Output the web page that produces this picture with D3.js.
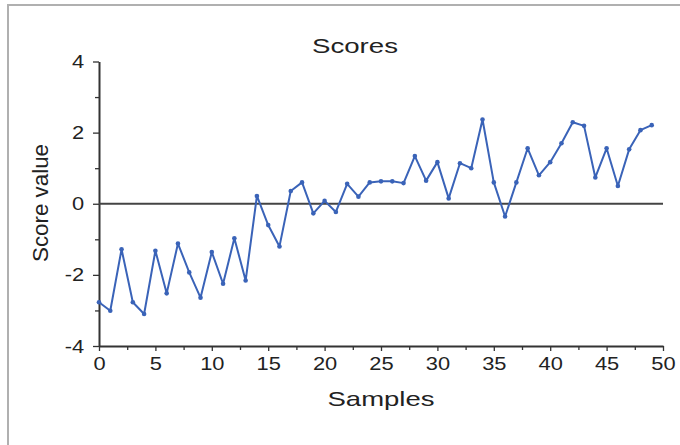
<!DOCTYPE html>
<html>
<head>
<meta charset="utf-8">
<script src="https://cdn.jsdelivr.net/npm/d3@7"></script>
<style>
  html, body { margin: 0; padding: 0; background: #fff; }
  svg text { font-family: "Liberation Sans", Arial, Helvetica, sans-serif; fill: #222; }
</style>
</head>
<body>
<div id="chart"></div>
<script>
// chart values
const samples = [0, 1, 2, 3, 4, 5, 6, 7, 8, 9, 10, 11, 12, 13, 14, 15, 16, 17, 18, 19,
  20, 21, 22, 23, 24, 25, 26, 27, 28, 29, 30, 31, 32, 33, 34, 35, 36, 37, 38, 39,
  40, 41, 42, 43, 44, 45, 46, 47, 48, 49]
const scores = [-2.77, -3.01, -1.28, -2.77, -3.10, -1.32, -2.52, -1.12, -1.93, -2.64,
  -1.36, -2.25, -0.97, -2.16, 0.22, -0.60, -1.20, 0.36, 0.60, -0.27,
  0.08, -0.23, 0.56, 0.20, 0.60, 0.63, 0.63, 0.58, 1.34, 0.65,
  1.17, 0.15, 1.14, 1.00, 2.37, 0.60, -0.36, 0.60, 1.56, 0.80,
  1.17, 1.70, 2.29, 2.19, 0.74, 1.56, 0.50, 1.53, 2.07, 2.21]
const xTicks = [0, 5, 10, 15, 20, 25, 30, 35, 40, 45, 50]
const xMinor = [2.5, 7.5, 12.5, 17.5, 22.5, 27.5, 32.5, 37.5, 42.5, 47.5]
const yTicks = [-4, -2, 0, 2, 4]
const yMinor = [-3, -1, 1, 3]

const width = 680, height = 445
const padding = { left: 99, top: 61.5, right: 17, bottom: 99 }
const lineColor = '#3a63b8'
const stretch = 1.15   // glyphs in the picture are wider than normal

const x = d3.scaleLinear().domain([0, 50]).range([padding.left, width - padding.right])
const y = d3.scaleLinear().domain([-4, 4]).range([height - padding.bottom, padding.top])

const svg = d3.select('#chart').append('svg')
  .attr('width', width)
  .attr('height', height)

// outer frame, runs off the right and bottom edges
svg.append('rect')
  .attr('x', 8).attr('y', 5)
  .attr('width', 720).attr('height', 500)
  .attr('fill', 'none')
  .attr('stroke', '#b0b0b0')
  .attr('stroke-width', 2)

// title
svg.append('text')
  .attr('x', 355).attr('y', 52.5)
  .attr('text-anchor', 'middle')
  .attr('font-size', 21)
  .attr('textLength', 86)
  .attr('lengthAdjust', 'spacingAndGlyphs')
  .text('Scores')

// minor ticks
svg.append('g')
  .attr('transform', `translate(0, ${y(-4)})`)
  .call(d3.axisBottom(x).tickValues(xMinor).tickSize(4).tickFormat(''))
  .call(g => g.select('.domain').remove())
svg.append('g')
  .attr('transform', `translate(${x(0)}, 0)`)
  .call(d3.axisLeft(y).tickValues(yMinor).tickSize(4).tickFormat(''))
  .call(g => g.select('.domain').remove())

// main axes
const xAxisG = svg.append('g')
  .attr('transform', `translate(0, ${y(-4)})`)
  .call(d3.axisBottom(x).tickValues(xTicks).tickSize(5).tickSizeOuter(0).tickPadding(6))
const yAxisG = svg.append('g')
  .attr('transform', `translate(${x(0)}, 0)`)
  .call(d3.axisLeft(y).tickValues(yTicks).tickSize(6).tickSizeOuter(0).tickPadding(7)
    .tickFormat(d => d < 0 ? '-' + Math.abs(d) : d))

svg.selectAll('.tick line').attr('stroke', '#333').attr('stroke-width', 1.3)
svg.selectAll('.domain').attr('stroke', '#333').attr('stroke-width', 2)
xAxisG.selectAll('text')
  .attr('font-size', 19)
  .attr('transform', `scale(${stretch}, 1)`)
yAxisG.selectAll('text')
  .attr('font-size', 19)
  .attr('transform', `scale(${stretch}, 1)`)
svg.selectAll('.tick text').attr('fill', '#222')

// zero line
svg.append('line')
  .attr('x1', x(0)).attr('x2', x(50))
  .attr('y1', y(0)).attr('y2', y(0))
  .attr('stroke', '#444')
  .attr('stroke-width', 2)

// axis titles
svg.append('text')
  .attr('x', 381).attr('y', 406)
  .attr('text-anchor', 'middle')
  .attr('font-size', 21)
  .attr('textLength', 107)
  .attr('lengthAdjust', 'spacingAndGlyphs')
  .text('Samples')

svg.append('text')
  .attr('transform', 'translate(48, 203) rotate(-90)')
  .attr('text-anchor', 'middle')
  .attr('font-size', 22)
  .attr('textLength', 118)
  .attr('lengthAdjust', 'spacingAndGlyphs')
  .text('Score value')

// series
const line = d3.line()
  .x((d, i) => x(samples[i]))
  .y(d => y(d))

svg.append('path')
  .datum(scores)
  .attr('d', line)
  .attr('fill', 'none')
  .attr('stroke', lineColor)
  .attr('stroke-width', 2)
  .attr('stroke-linejoin', 'round')

svg.append('g')
  .selectAll('circle')
  .data(scores)
  .join('circle')
  .attr('cx', (d, i) => x(samples[i]))
  .attr('cy', d => y(d))
  .attr('r', 2.3)
  .attr('fill', lineColor)
</script>
</body>
</html>
